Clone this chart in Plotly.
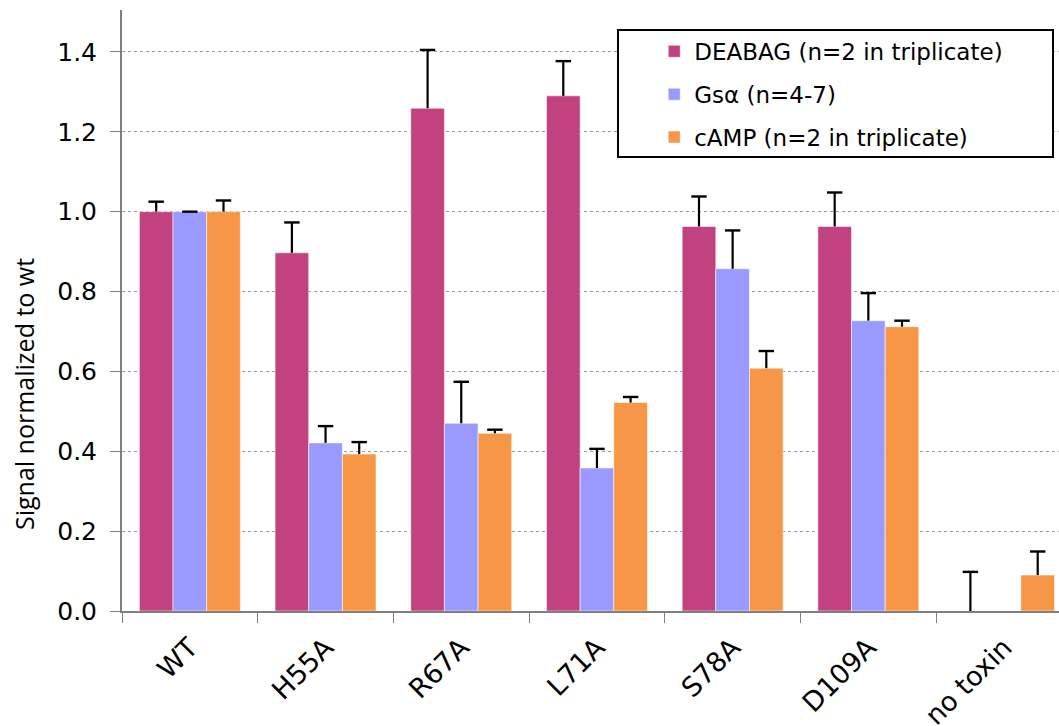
import plotly.graph_objects as go

# Toxin variants on the category axis
variants = ["WT", "H55A", "R67A", "L71A", "S78A", "D109A", "no toxin"]

# Signal normalized to wild type, with the upper error (SD) for each assay
deabag = [1.000, 0.897, 1.259, 1.290, 0.963, 0.963, 0.0]
deabag_err = [0.025, 0.076, 0.146, 0.087, 0.075, 0.085, 0.098]

gsa = [1.000, 0.421, 0.470, 0.358, 0.857, 0.727, None]
gsa_err = [0.0, 0.042, 0.104, 0.048, 0.096, 0.069, None]

camp = [1.000, 0.393, 0.445, 0.522, 0.608, 0.712, 0.090]
camp_err = [0.028, 0.030, 0.009, 0.014, 0.043, 0.015, 0.059]

series = [
    ("DEABAG (n=2 in triplicate)", deabag, deabag_err, "#C2417F"),
    ("Gsα (n=4-7)", gsa, gsa_err, "#9999FF"),
    ("cAMP (n=2 in triplicate)", camp, camp_err, "#F79646"),
]

fig = go.Figure()
for i, (name, vals, errs, color) in enumerate(series):
    # bar with a one-sided error stem (no caps)
    fig.add_trace(go.Bar(
        x=variants,
        y=vals,
        name=name,
        legendgroup=f"g{i}",
        offsetgroup=f"g{i}",
        marker=dict(color=color, line=dict(color="rgba(255,255,255,0.55)", width=1)),
        error_y=dict(
            type="data",
            symmetric=False,
            array=errs,
            arrayminus=[0] * len(errs),
            color="black",
            thickness=2.2,
            width=0,
        ),
    ))

for i, (name, vals, errs, color) in enumerate(series):
    # cap only at the top end of each error stem
    tops = [None if v is None or e is None else v + e for v, e in zip(vals, errs)]
    fig.add_trace(go.Scatter(
        x=variants,
        y=tops,
        mode="markers",
        offsetgroup=f"g{i}",
        marker=dict(symbol="line-ew-open", size=11, color="black",
                    line=dict(color="black", width=2.4)),
        showlegend=False,
        hoverinfo="skip",
    ))

fig.update_layout(
    width=1059,
    height=726,
    margin=dict(l=122, r=0, t=10, b=115, autoexpand=False),
    paper_bgcolor="white",
    plot_bgcolor="white",
    barmode="group",
    scattermode="group",
    bargap=0.256,
    bargroupgap=0,
    scattergap=0.256,
    font=dict(family="DejaVu Sans", color="black"),
    showlegend=True,
    legend=dict(
        x=0.568,
        y=0.967,
        xanchor="left",
        yanchor="top",
        bgcolor="rgba(0,0,0,0)",
        borderwidth=0,
        font=dict(family="DejaVu Sans", size=23, color="black"),
        tracegroupgap=10,
        itemclick=False,
    ),
    shapes=[
        dict(
            type="rect",
            xref="paper", yref="paper",
            x0=(618 - 122) / 937, x1=(1053 - 122) / 937,
            y0=(611 - 157) / 601, y1=(611 - 30) / 601,
            line=dict(color="black", width=2),
            fillcolor="white",
            layer="above",
        )
    ],
    annotations=[
        dict(
            text="Signal normalized to wt",
            xref="paper", yref="paper",
            x=(24 - 122) / 937, y=(611 - 394) / 601,
            xanchor="center", yanchor="middle",
            textangle=-90,
            showarrow=False,
            font=dict(family="Open Sans", size=25, color="black"),
        )
    ],
)

fig.update_xaxes(
    type="category",
    range=[-0.5, 6.405],
    automargin=False,
    showline=True,
    linecolor="#7f7f7f",
    linewidth=2,
    ticks="outside",
    tickson="boundaries",
    ticklen=10,
    tickcolor="#7f7f7f",
    tickwidth=1,
    tickangle=-45,
    tickfont=dict(family="DejaVu Sans", size=27, color="black"),
    ticklabelstandoff=8,
    showgrid=False,
    zeroline=False,
)

fig.update_yaxes(
    range=[0, 1.505],
    automargin=False,
    dtick=0.2,
    tick0=0,
    tickformat=".1f",
    showline=True,
    linecolor="#7f7f7f",
    linewidth=2,
    ticks="outside",
    ticklen=10,
    tickcolor="#7f7f7f",
    tickwidth=1,
    tickfont=dict(family="DejaVu Sans", size=25, color="black"),
    ticklabelstandoff=8,
    showgrid=True,
    gridcolor="#999999",
    gridwidth=1,
    griddash="dot",
    zeroline=False,
)

fig.write_html("out.html")
